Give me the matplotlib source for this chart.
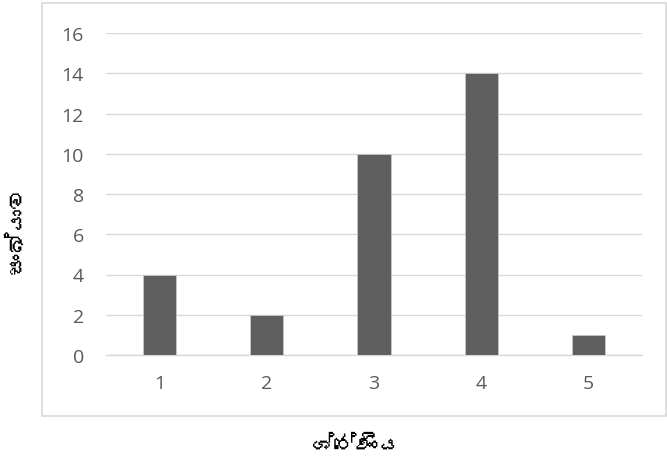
import matplotlib
matplotlib.use('Agg')
import matplotlib.pyplot as plt
from matplotlib import font_manager
from matplotlib.ft2font import FT2Font
from matplotlib.patches import Rectangle

categories = ['1', '2', '3', '4', '5']
values = [4, 2, 10, 14, 1]
y_ticks = [0, 2, 4, 6, 8, 10, 12, 14, 16]
x_title = 'ශ්‍රේණිය'
y_title = 'සංඛ්‍යාව'


def find_sinhala_font():
    # look for any installed font that has Sinhala glyphs
    for f in font_manager.fontManager.ttflist:
        try:
            cmap = FT2Font(f.fname).get_charmap()
        except Exception:
            continue
        if 0x0DC1 in cmap and 0x0DCA in cmap:
            return f.name
    return None


sinhala = find_sinhala_font()
label_family = [sinhala, 'DejaVu Sans'] if sinhala else ['DejaVu Sans']

# the zero width joiner has no glyph here, it would draw as a box
x_text = x_title.replace('\u200d', '')
y_text = y_title.replace('\u200d', '')

plt.rcParams['font.family'] = ['Open Sans', 'DejaVu Sans']

fig = plt.figure(figsize=(6.67, 4.60), dpi=100)
ax = fig.add_axes([106 / 667, 1 - 356 / 460, (642 - 106) / 667, (356 - 34) / 460])

x = list(range(1, len(categories) + 1))
ax.bar(x, values, width=0.31, color='#5f5f5f', edgecolor='#c8c8c8',
       linewidth=0.6, zorder=3)

ax.set_xlim(0.5, 5.5)
ax.set_ylim(0, 16)
ax.set_yticks(y_ticks)
ax.set_xticks(x)
ax.set_xticklabels(categories)
ax.grid(axis='y', color='#d9d9d9', linewidth=1.0, zorder=0)
for s in ['top', 'right', 'left']:
    ax.spines[s].set_visible(False)
ax.spines['bottom'].set_color('#d9d9d9')
ax.spines['bottom'].set_linewidth(1.0)
ax.tick_params(axis='both', length=0, colors='#595959', labelsize=14)
ax.tick_params(axis='y', pad=16)
ax.tick_params(axis='x', pad=14)

# chart area border
fig.patches.append(Rectangle((42 / 667, 1 - 417 / 460), (666 - 42) / 667,
                             (417 - 4) / 460, transform=fig.transFigure,
                             fill=False, edgecolor='#d9d9d9', linewidth=1.2))

fig.text(357 / 667, 1 - 446 / 460, x_text, ha='center', va='center',
         fontsize=16, family=label_family, color='black')
fig.text(17 / 667, 1 - 230 / 460, y_text, ha='center', va='center',
         rotation=90, fontsize=16, family=label_family, color='black')

fig.savefig('out.png', dpi=100)
